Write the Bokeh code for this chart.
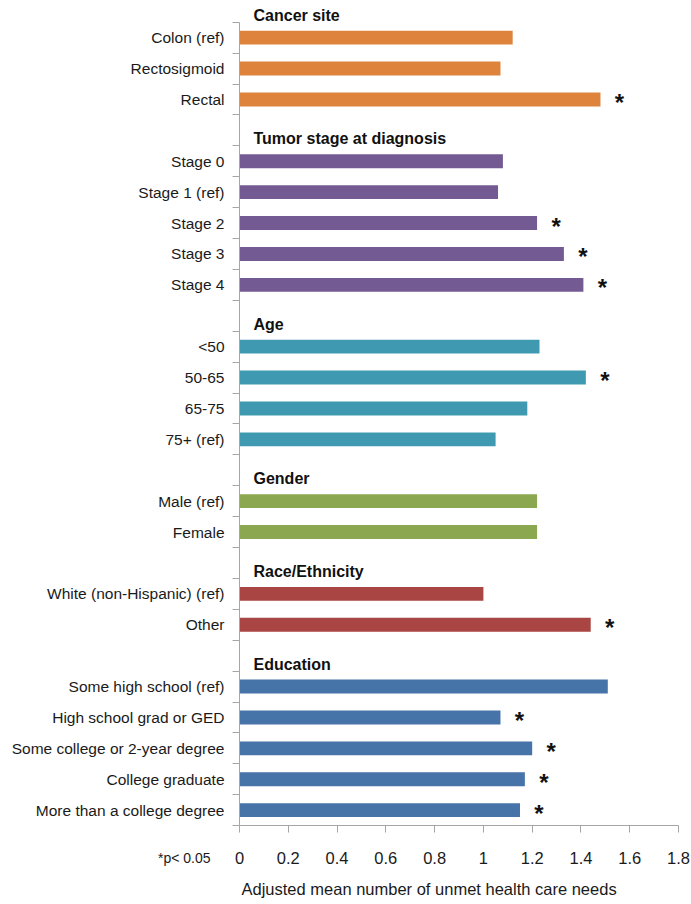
from bokeh.plotting import figure
from bokeh.models import Range1d, FixedTicker, NumeralTickFormatter, ColumnDataSource
from bokeh.core.properties import value
from bokeh.embed import file_html
from bokeh.resources import INLINE

# ---- data ----
groups = ["Cancer site", "Tumor stage at diagnosis", "Age", "Gender",
          "Race/Ethnicity", "Education"]
group_colors = ["#DE833B", "#735A93", "#3F99B0", "#8BA750", "#A94543", "#4673A8"]

cancer_labels = ["Colon (ref)", "Rectosigmoid", "Rectal"]
cancer_values = [1.12, 1.07, 1.48]
cancer_sig = [0, 0, 1]

tumor_labels = ["Stage 0", "Stage 1 (ref)", "Stage 2", "Stage 3", "Stage 4"]
tumor_values = [1.08, 1.06, 1.22, 1.33, 1.41]
tumor_sig = [0, 0, 1, 1, 1]

age_labels = ["<50", "50-65", "65-75", "75+ (ref)"]
age_values = [1.23, 1.42, 1.18, 1.05]
age_sig = [0, 1, 0, 0]

gender_labels = ["Male (ref)", "Female"]
gender_values = [1.22, 1.22]
gender_sig = [0, 0]

race_labels = ["White (non-Hispanic) (ref)", "Other"]
race_values = [1.00, 1.44]
race_sig = [0, 1]

edu_labels = ["Some high school (ref)", "High school grad or GED",
              "Some college or 2-year degree", "College graduate",
              "More than a college degree"]
edu_values = [1.51, 1.07, 1.20, 1.17, 1.15]
edu_sig = [0, 1, 1, 1, 1]

x_ticks = [0, 0.2, 0.4, 0.6, 0.8, 1.0, 1.2, 1.4, 1.6, 1.8]
x_title = "Adjusted mean number of unmet health care needs"
note_text = "*p< 0.05"

all_labels = [cancer_labels, tumor_labels, age_labels, gender_labels, race_labels, edu_labels]
all_values = [cancer_values, tumor_values, age_values, gender_values, race_values, edu_values]
all_sig = [cancer_sig, tumor_sig, age_sig, gender_sig, race_sig, edu_sig]

# ---- layout rows (row 0 = header row above first group) ----
rows, labels, vals, cols = [], [], [], []
header_y = []
star_y, star_x = [], []
row = 0
for g, c, labs, vs, sg in zip(groups, group_colors, all_labels, all_values, all_sig):
    header_y.append(row + 0.5)
    for lab, v, s in zip(labs, vs, sg):
        row += 1
        rows.append(row)
        labels.append(lab)
        vals.append(v)
        cols.append(c)
        if s:
            star_y.append(row)
            star_x.append(v)
    row += 1
n_rows = row - 1
axis_y = n_rows + 0.5
boundaries = [i + 0.5 for i in range(0, n_rows + 1)]
x_max = x_ticks[-1]

FONT = "Liberation Sans"
W, H = 690, 903
x0_px, px_per_x = 239.0, 243.9          # canvas position of x=0, pixels per unit
top_px, px_per_row = 21.7, 30.9          # canvas position of first boundary, pixels per row

x_range = Range1d(-x0_px / px_per_x, (W - x0_px) / px_per_x)
y_range = Range1d(0.5 + (H - top_px) / px_per_row, 0.5 - top_px / px_per_row)

p = figure(width=W, height=H, x_range=x_range, y_range=y_range,
           output_backend="svg", toolbar_location=None,
           min_border_left=0, min_border_right=0, min_border_top=0, min_border_bottom=0)

p.xgrid.visible = False
p.ygrid.visible = False
p.outline_line_color = None
p.background_fill_color = "white"
p.border_fill_color = "white"

src = ColumnDataSource(dict(y=rows, v=vals, c=cols))
p.hbar(y="y", left=0, right="v", height=0.45, fill_color="c", line_color=None, source=src)

# group headers
p.text(x=[0] * len(header_y), y=header_y, text=groups,
       text_font=value(FONT), text_font_style="bold", text_font_size="16px",
       text_color="#111111", x_offset=14, y_offset=-7, text_baseline="alphabetic")

# significance stars
p.text(x=star_x, y=star_y, text=["*"] * len(star_y),
       text_font=value(FONT), text_font_style="bold", text_font_size="24px",
       text_color="#111111", x_offset=19, y_offset=3,
       text_align="center", text_baseline="alphabetic")

# note and axis title
p.text(x=[0], y=[axis_y], text=[note_text], text_font=value(FONT),
       text_font_size="14px", text_color="#1a1a1a", x_offset=-29, y_offset=32,
       text_align="right", text_baseline="middle")
p.text(x=[0], y=[axis_y], text=[x_title], text_font=value(FONT),
       text_font_size="16.5px", text_color="#1a1a1a", x_offset=2, y_offset=63,
       text_align="left", text_baseline="middle")

# y axis
ya = p.yaxis[0]
ya.fixed_location = 0
ya.ticker = FixedTicker(ticks=rows, minor_ticks=boundaries)
ya.major_label_overrides = {r: l for r, l in zip(rows, labels)}
ya.bounds = (0.5, axis_y)
ya.major_tick_out = 0
ya.major_tick_in = 0
ya.minor_tick_out = 7
ya.minor_tick_in = 0
ya.minor_tick_line_color = "#A6A6A6"
ya.axis_line_color = "#A6A6A6"
ya.major_label_text_font = FONT
ya.major_label_text_font_size = "15.5px"
ya.major_label_text_color = "#1a1a1a"
ya.major_label_standoff = 8

# x axis
xa = p.xaxis[0]
xa.fixed_location = axis_y
xa.ticker = FixedTicker(ticks=x_ticks)
xa.formatter = NumeralTickFormatter(format="0.[0]")
xa.bounds = (0, x_max)
xa.major_tick_out = 7
xa.major_tick_in = 0
xa.minor_tick_out = 0
xa.minor_tick_in = 0
xa.major_tick_line_color = "#A6A6A6"
xa.axis_line_color = "#A6A6A6"
xa.major_label_text_font = FONT
xa.major_label_text_font_size = "16.5px"
xa.major_label_text_color = "#1a1a1a"
xa.major_label_standoff = 19

open("out.html", "w").write(file_html(p, INLINE))
